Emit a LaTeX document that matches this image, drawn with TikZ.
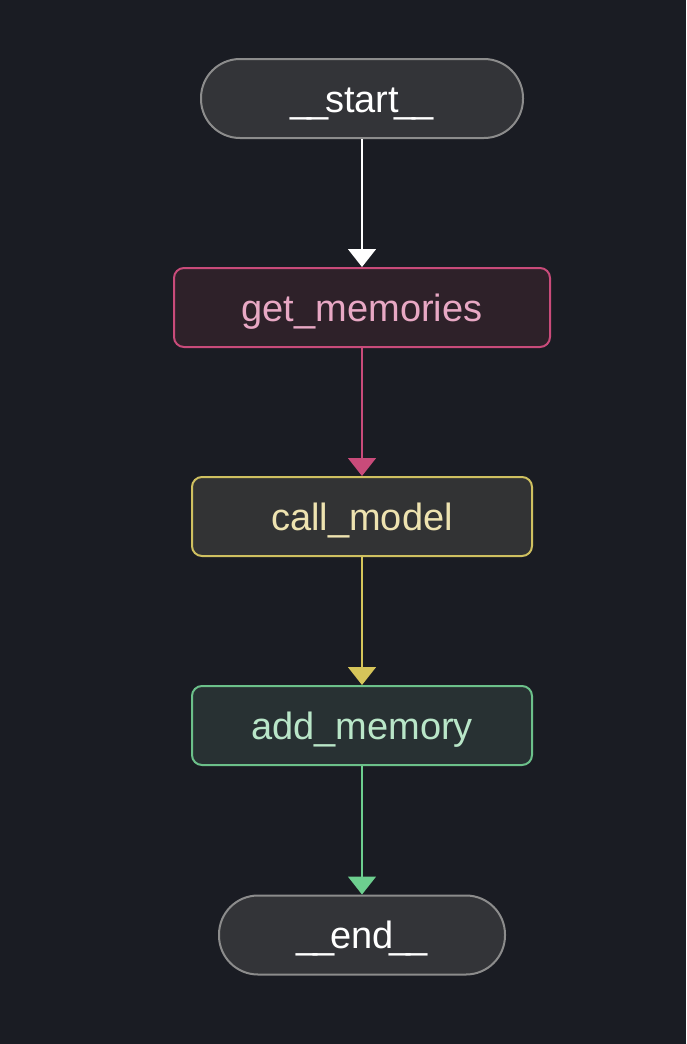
\documentclass[tikz,border=0pt]{standalone}
\usepackage{fontspec}
\setmainfont{Liberation Sans}
\usetikzlibrary{arrows.meta}
\definecolor{bg}{HTML}{1A1C23}
\definecolor{termfill}{HTML}{333438}
\definecolor{termdraw}{HTML}{8C8C8C}
\definecolor{pinkfill}{HTML}{2E2129}
\definecolor{pinkdraw}{HTML}{C94B7A}
\definecolor{pinktext}{HTML}{E8A8C4}
\definecolor{yelfill}{HTML}{323334}
\definecolor{yeldraw}{HTML}{CFC060}
\definecolor{yeltext}{HTML}{EEE3B0}
\definecolor{grnfill}{HTML}{283133}
\definecolor{grndraw}{HTML}{6CC08A}
\definecolor{grntext}{HTML}{B9E6C8}
\definecolor{grnarrow}{HTML}{6DCF8F}
\definecolor{yelarrow}{HTML}{D6C55A}
\newcommand{\us}{\_\kern-4pt}
\newcommand{\usr}{\kern-4pt\_}
\begin{document}
\begin{tikzpicture}[x=1pt,y=-1pt,
  base/.style={inner sep=0pt, line width=2pt, minimum height=79pt, text height=27pt, text depth=0pt, font=\fontsize{38}{42}\selectfont},
  term/.style={base, rounded corners=39pt, fill=termfill, draw=termdraw, text=white},
  stepbox/.style={base, rounded corners=10pt},
  edge/.style={line width=1.6pt, -{Triangle[width=28pt,length=18pt]}}]
\fill[bg] (0,0) rectangle (686,1044);
\useasboundingbox (0,0) rectangle (686,1044);
\node[term, minimum width=322pt] (start) at (362,98.5) {\us\us start\usr\usr};
\node[stepbox, minimum width=376pt, fill=pinkfill, draw=pinkdraw, text=pinktext] (getm) at (362,307.5) {get\_memories};
\node[stepbox, minimum width=340pt, fill=yelfill, draw=yeldraw, text=yeltext] (callm) at (362,516.5) {call\_model};
\node[stepbox, minimum width=340pt, fill=grnfill, draw=grndraw, text=grntext] (addm) at (362,725.5) {add\_memory};
\node[term, minimum width=286pt] (end) at (362,935) {\us\us end\usr\usr};
\draw[edge, white] (start) -- (getm);
\draw[edge, pinkdraw] (getm) -- (callm);
\draw[edge, yelarrow] (callm) -- (addm);
\draw[edge, grnarrow] (addm) -- (end);
\end{tikzpicture}
\end{document}
